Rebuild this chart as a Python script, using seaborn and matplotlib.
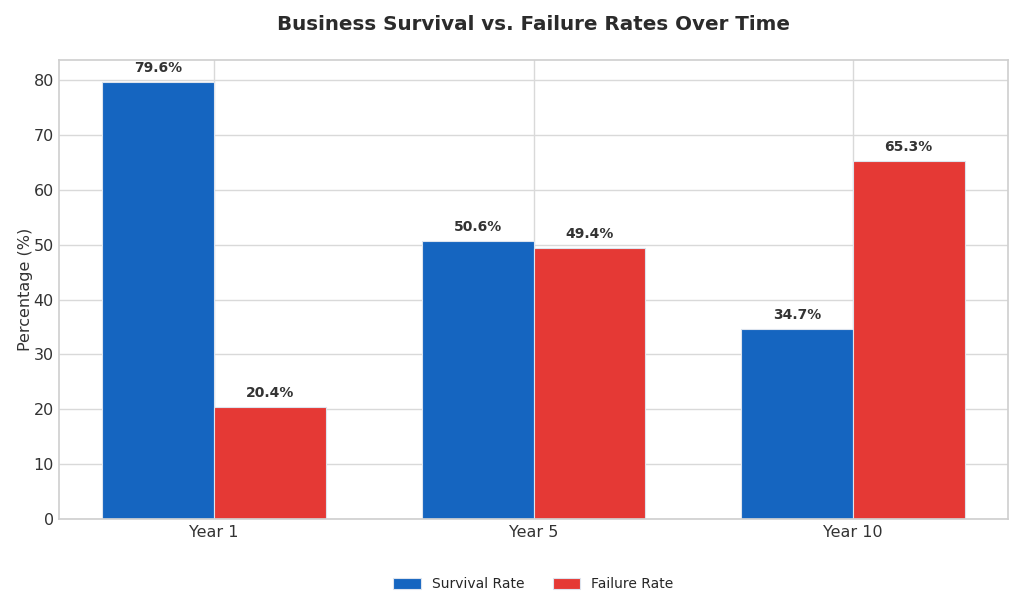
import pandas as pd
import matplotlib.pyplot as plt
import seaborn as sns

# ==========================
# Data
# ==========================

years = ["Year 1", "Year 5", "Year 10"]
survival = [79.6, 50.6, 34.7]
failure = [20.4, 49.4, 65.3]
series = ["Survival Rate", "Failure Rate"]
colors = ["#1565C0", "#E53935"]

df = pd.DataFrame({
    "year": years * 2,
    "rate": series[0:1] * 3 + series[1:2] * 3,
    "value": survival + failure,
})

# ==========================
# Plot
# ==========================

sns.set_theme(style="whitegrid")
plt.rcParams["font.family"] = ["DejaVu Sans"]

fig, ax = plt.subplots(figsize=(10.24, 6.15), dpi=100)

sns.barplot(
    data=df,
    x="year",
    y="value",
    hue="rate",
    hue_order=series,
    order=years,
    palette=colors,
    width=0.7,
    saturation=1,
    edgecolor="#dde4ee",
    linewidth=0.8,
    ax=ax,
)

for container in ax.containers:
    ax.bar_label(
        container,
        fmt="%.1f%%",
        padding=5,
        fontsize=10,
        fontweight="bold",
        color="#333333",
    )

ax.set_xlim(-0.485, 2.485)
ax.set_ylim(0, 83.6)
ax.set_xlabel("")
ax.set_ylabel("Percentage (%)", fontsize=11.5, color="#333333", labelpad=0)
ax.set_title(
    "Business Survival vs. Failure Rates Over Time",
    fontsize=14.3,
    fontweight="bold",
    color="#2b2b2b",
    pad=22,
)
ax.tick_params(axis="both", labelsize=11.5, colors="#333333", length=0, pad=4)
ax.grid(True, color="#d9d9d9", linewidth=1)
for spine in ax.spines.values():
    spine.set_color("#d0d0d0")

ax.legend(
    loc="upper center",
    bbox_to_anchor=(0.5, -0.1),
    ncol=2,
    frameon=False,
    fontsize=10,
    handlelength=2.0,
    handleheight=0.9,
    columnspacing=2.0,
)

plt.subplots_adjust(left=0.058, right=0.984, top=0.902, bottom=0.156)

plt.savefig("out.png", dpi=100)
plt.close()
